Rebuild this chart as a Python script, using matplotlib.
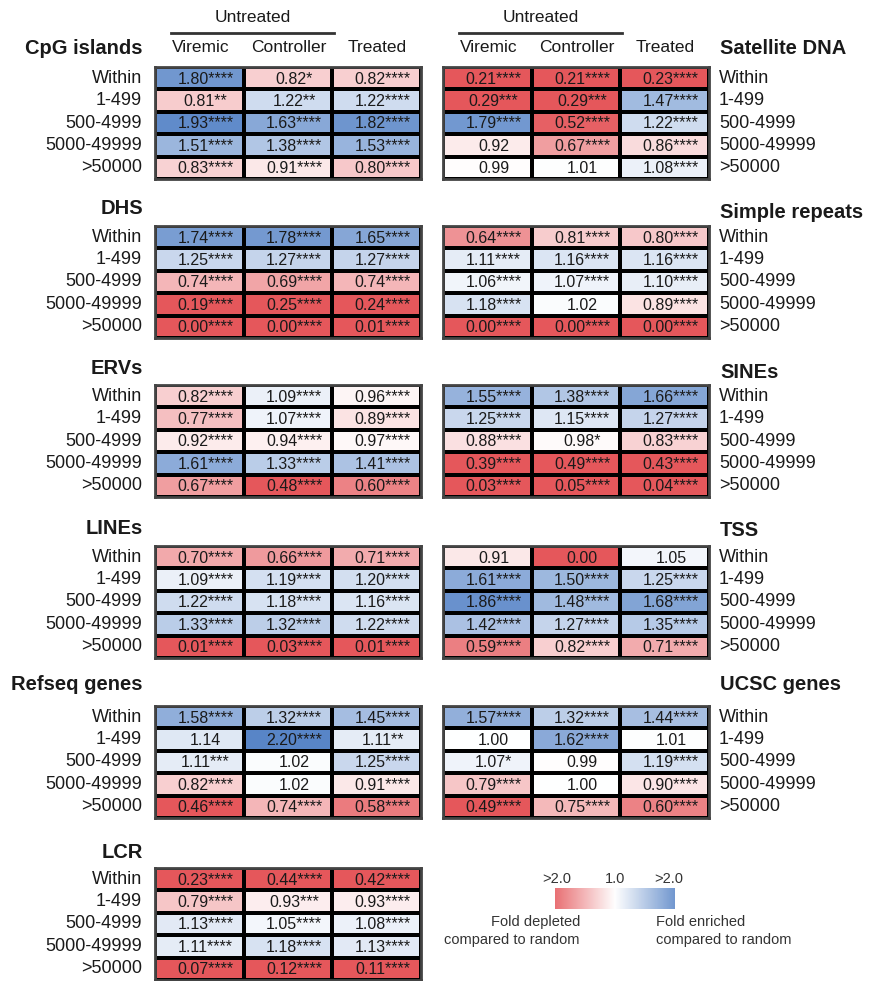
import numpy as np
import matplotlib.pyplot as plt
from matplotlib import font_manager
from matplotlib.colors import LinearSegmentedColormap

W, H = 870, 981

rows = ['Within', '1-499', '500-4999', '5000-49999', '>50000']
groups = ['Viremic', 'Controller', 'Treated']

# fold enrichment vs random, and number of significance stars
cpg_islands = [[1.80, 0.82, 0.82], [0.81, 1.22, 1.22], [1.93, 1.63, 1.82], [1.51, 1.38, 1.53], [0.83, 0.91, 0.80]]
cpg_islands_sig = [[4, 1, 4], [2, 2, 4], [4, 4, 4], [4, 4, 4], [4, 4, 4]]

dhs = [[1.74, 1.78, 1.65], [1.25, 1.27, 1.27], [0.74, 0.69, 0.74], [0.19, 0.25, 0.24], [0.00, 0.00, 0.01]]
dhs_sig = [[4, 4, 4], [4, 4, 4], [4, 4, 4], [4, 4, 4], [4, 4, 4]]

ervs = [[0.82, 1.09, 0.96], [0.77, 1.07, 0.89], [0.92, 0.94, 0.97], [1.61, 1.33, 1.41], [0.67, 0.48, 0.60]]
ervs_sig = [[4, 4, 4], [4, 4, 4], [4, 4, 4], [4, 4, 4], [4, 4, 4]]

lines = [[0.70, 0.66, 0.71], [1.09, 1.19, 1.20], [1.22, 1.18, 1.16], [1.33, 1.32, 1.22], [0.01, 0.03, 0.01]]
lines_sig = [[4, 4, 4], [4, 4, 4], [4, 4, 4], [4, 4, 4], [4, 4, 4]]

refseq = [[1.58, 1.32, 1.45], [1.14, 2.20, 1.11], [1.11, 1.02, 1.25], [0.82, 1.02, 0.91], [0.46, 0.74, 0.58]]
refseq_sig = [[4, 4, 4], [0, 4, 2], [3, 0, 4], [4, 0, 4], [4, 4, 4]]

lcr = [[0.23, 0.44, 0.42], [0.79, 0.93, 0.93], [1.13, 1.05, 1.08], [1.11, 1.18, 1.13], [0.07, 0.12, 0.11]]
lcr_sig = [[4, 4, 4], [4, 3, 4], [4, 4, 4], [4, 4, 4], [4, 4, 4]]

satellite = [[0.21, 0.21, 0.23], [0.29, 0.29, 1.47], [1.79, 0.52, 1.22], [0.92, 0.67, 0.86], [0.99, 1.01, 1.08]]
satellite_sig = [[4, 4, 4], [3, 3, 4], [4, 4, 4], [0, 4, 4], [0, 0, 4]]

simple_repeats = [[0.64, 0.81, 0.80], [1.11, 1.16, 1.16], [1.06, 1.07, 1.10], [1.18, 1.02, 0.89], [0.00, 0.00, 0.00]]
simple_repeats_sig = [[4, 4, 4], [4, 4, 4], [4, 4, 4], [4, 0, 4], [4, 4, 4]]

sines = [[1.55, 1.38, 1.66], [1.25, 1.15, 1.27], [0.88, 0.98, 0.83], [0.39, 0.49, 0.43], [0.03, 0.05, 0.04]]
sines_sig = [[4, 4, 4], [4, 4, 4], [4, 1, 4], [4, 4, 4], [4, 4, 4]]

tss = [[0.91, 0.00, 1.05], [1.61, 1.50, 1.25], [1.86, 1.48, 1.68], [1.42, 1.27, 1.35], [0.59, 0.82, 0.71]]
tss_sig = [[0, 0, 0], [4, 4, 4], [4, 4, 4], [4, 4, 4], [4, 4, 4]]

ucsc = [[1.57, 1.32, 1.44], [1.00, 1.62, 1.01], [1.07, 0.99, 1.19], [0.79, 1.00, 0.90], [0.49, 0.75, 0.60]]
ucsc_sig = [[4, 4, 4], [0, 4, 0], [1, 0, 4], [4, 0, 4], [4, 4, 4]]

left_panels = [('CpG islands', cpg_islands, cpg_islands_sig), ('DHS', dhs, dhs_sig),
               ('ERVs', ervs, ervs_sig), ('LINEs', lines, lines_sig),
               ('Refseq genes', refseq, refseq_sig), ('LCR', lcr, lcr_sig)]
right_panels = [('Satellite DNA', satellite, satellite_sig), ('Simple repeats', simple_repeats, simple_repeats_sig),
                ('SINEs', sines, sines_sig), ('TSS', tss, tss_sig), ('UCSC genes', ucsc, ucsc_sig)]

# layout in pixels
panel_tops = [67, 226, 385, 546, 706, 868]
left_title_gap = [19, 18, 16, 18, 21, 16]
right_title_gap = [19, 14, 13, 16, 21]
left_x, right_x = 155, 443
table_w, table_h = 266, 112

names = {f.name for f in font_manager.fontManager.ttflist}
base_font = 'Liberation Sans' if 'Liberation Sans' in names else 'DejaVu Sans'
cell_font = 'Liberation Sans Narrow' if 'Liberation Sans Narrow' in names else base_font
plt.rcParams['font.family'] = base_font
txt_col = '#1a1a1a'

cmap = LinearSegmentedColormap.from_list('fold', ['#E5575B', '#FFFFFF', '#5885C7'])

fig = plt.figure(figsize=(W / 100, H / 100), dpi=100)


def px_axes(x, y, w, h):
    return fig.add_axes([x / W, 1 - (y + h) / H, w / W, h / H])


def ftext(x, y, s, **kw):
    kw.setdefault('color', txt_col)
    fig.text(x / W, 1 - y / H, s, **kw)


def draw_table(x0, top, vals, sig):
    v = np.array(vals)
    z = np.log2(np.clip(v, 0.01, None))
    ax = px_axes(x0, top, table_w, table_h)
    ax.pcolormesh(z, cmap=cmap, vmin=-1, vmax=1, edgecolors='black', linewidth=1.5)
    ax.set_xlim(0, 3)
    ax.set_ylim(5, 0)
    for i in range(v.shape[0]):
        for j in range(v.shape[1]):
            ax.text(j + 0.57, i + 0.54, f'{v[i, j]:.2f}' + '*' * sig[i][j],
                    ha='center', va='center', fontsize=11.5, family=cell_font, color=txt_col)
    ax.set_xticks([])
    ax.set_yticks([])
    for s in ax.spines.values():
        s.set_color('#444444')
        s.set_linewidth(2)
    return ax


row_h = table_h / len(rows)
col_w = table_w / len(groups)

# left column of panels
for (title, vals, sig), top, gap in zip(left_panels, panel_tops, left_title_gap):
    draw_table(left_x, top, vals, sig)
    ftext(143, top - gap, title, ha='right', va='center', fontsize=14.5, fontweight='bold')
    for i, r in enumerate(rows):
        ftext(142, top + (i + 0.5) * row_h, r, ha='right', va='center', fontsize=13)

# right column of panels
for (title, vals, sig), top, gap in zip(right_panels, panel_tops, right_title_gap):
    draw_table(right_x, top, vals, sig)
    ftext(720, top - gap, title, ha='left', va='center', fontsize=14.5, fontweight='bold')
    for i, r in enumerate(rows):
        ftext(719, top + (i + 0.5) * row_h, r, ha='left', va='center', fontsize=13)

# column headers
lx = fig.add_axes([0, 0, 1, 1], facecolor='none')
lx.set_axis_off()
lx.set_xlim(0, W)
lx.set_ylim(H, 0)
for x0 in (left_x, right_x):
    for j, g in enumerate(groups):
        ftext(x0 + (j + 0.5) * col_w + 1, 48, g, ha='center', va='center', fontsize=12.5)
    ftext(x0 + 98, 18, 'Untreated', ha='center', va='center', fontsize=12.5)
    lx.plot([x0 + 16, x0 + 2 * col_w + 2], [33, 33], color='#333333', lw=2)

# colour key
cax = px_axes(555, 888, 120, 21)
cax.imshow(np.linspace(-1, 1, 256)[None, :], cmap=cmap, vmin=-1, vmax=1, aspect='auto', alpha=0.85)
cax.set_axis_off()
ftext(557, 879, '>2.0', ha='center', va='center', fontsize=10.5, color='#333333')
ftext(615, 879, '1.0', ha='center', va='center', fontsize=10.5, color='#333333')
ftext(669, 879, '>2.0', ha='center', va='center', fontsize=10.5, color='#333333')
ftext(580, 931, 'Fold depleted\ncompared to random', ha='right', va='center',
      multialignment='right', fontsize=10.5, color='#333333', linespacing=1.3)
ftext(656, 931, 'Fold enriched\ncompared to random', ha='left', va='center',
      multialignment='left', fontsize=10.5, color='#333333', linespacing=1.3)

fig.savefig('out.png', dpi=100)
